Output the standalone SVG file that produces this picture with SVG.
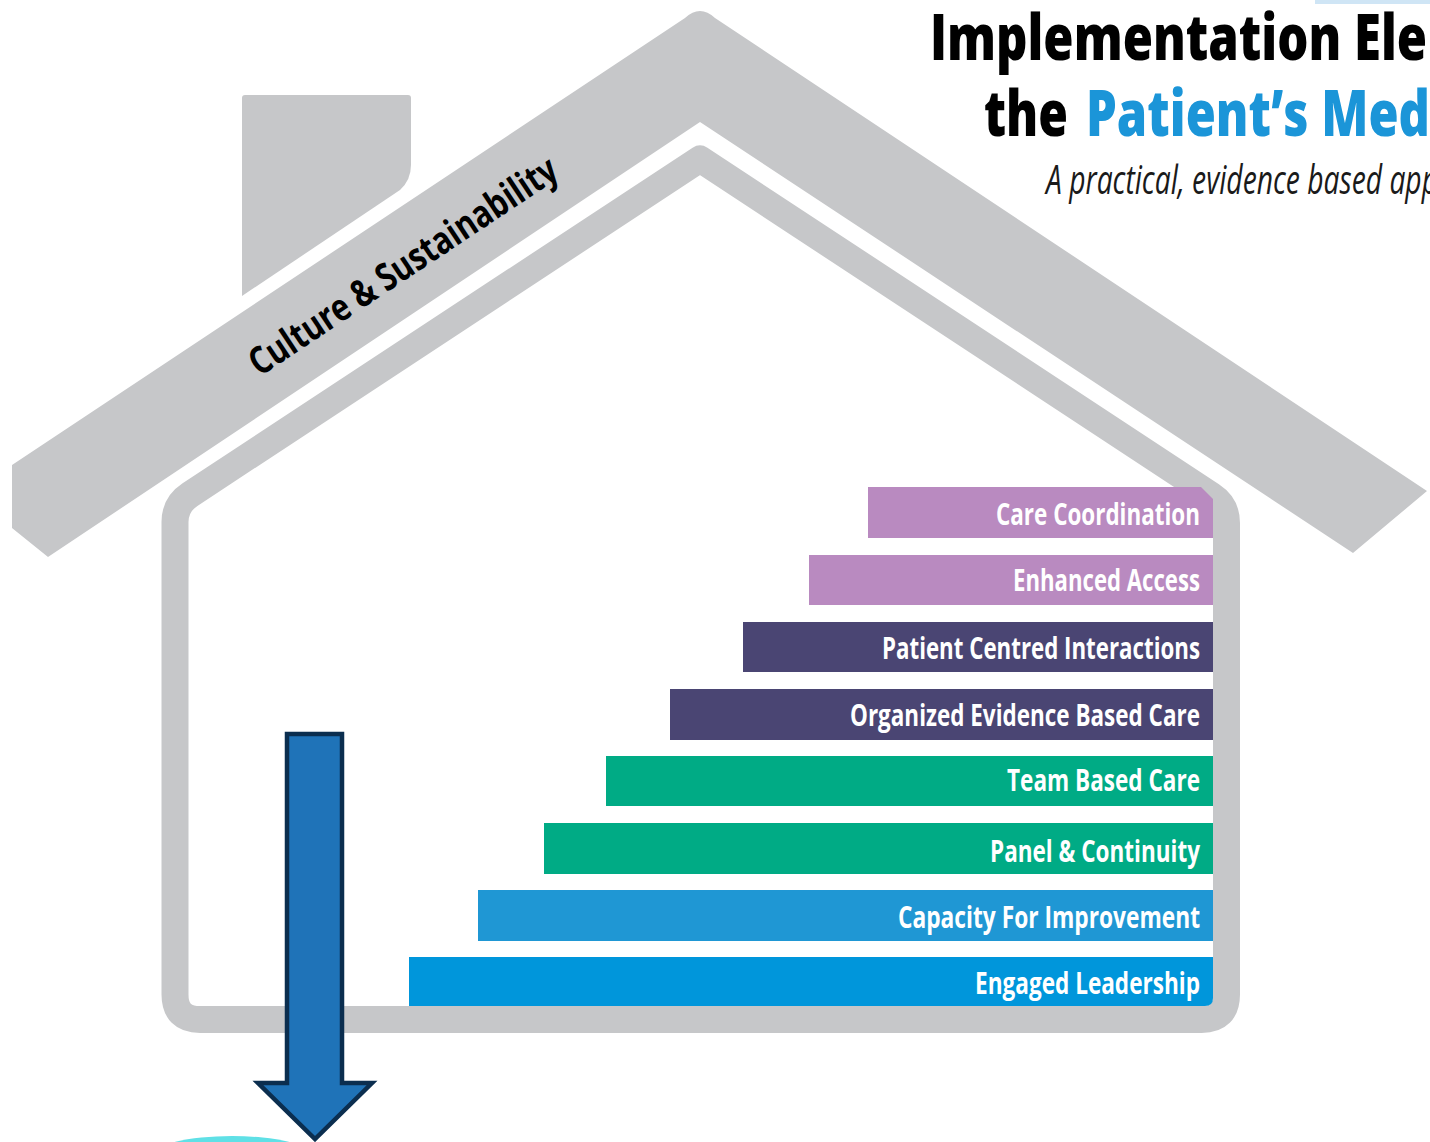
<svg xmlns="http://www.w3.org/2000/svg" width="1430" height="1142" viewBox="0 0 1430 1142">
  <style>
    .grey { fill: #c6c7c9; }
    .band { fill: none; stroke: #c6c7c9; stroke-width: 27; stroke-linejoin: round; }
    .lbl { font-family: "Open Sans", "Liberation Sans", sans-serif; font-weight: 700; font-size: 31px; fill: #ffffff; text-anchor: end; }
    .lilac { fill: #b98ac0; }
    .plum { fill: #4a4573; }
    .green { fill: #00ab85; }
    .blue1 { fill: #1f97d4; }
    .blue2 { fill: #0096db; }
    .title { font-family: "Open Sans", "Liberation Sans", sans-serif; font-weight: 800; font-size: 64px; }
  </style>
  <rect width="1430" height="1142" fill="#ffffff"/>
  <rect x="1315" y="0" width="115" height="4" fill="#cfe5f5"/>

  <g id="roof">
    <path class="grey" d="M12,465 L685,18 Q700,4 715,18 L1427,491 L1353,553 L700,122 L48,557 L12,528 Z"/>
  </g>
  <g id="chimney">
    <path class="grey" d="M242,98 Q242,95 245,95 L408,95 Q411,95 411,98 L411,165 Q411,180 400,190 L242,296 Z"/>
  </g>
  <g id="roof-label">
    <text x="403" y="279" transform="rotate(-33.6 403 266)" text-anchor="middle" textLength="362" lengthAdjust="spacingAndGlyphs" style="font-family:'Open Sans','Liberation Sans',sans-serif;font-weight:700;font-size:38px;fill:#000000">Culture &amp; Sustainability</text>
  </g>

  <g id="house-outline">
    <path class="band" d="M700,159 L190,494.6 Q175,504.5 175,522 L175,994.5 Q175,1019.5 200,1019.5 L1201.5,1019.5 Q1226.5,1019.5 1226.5,994.5 L1226.5,523 Q1226.5,505.4 1211.5,495.5 Z"/>
  </g>

  <g id="title">
    <text class="title" x="930" y="60" fill="#000000" textLength="497" lengthAdjust="spacingAndGlyphs">Implementation Ele</text>
    <text class="title" x="984" y="136" fill="#000000" textLength="84" lengthAdjust="spacingAndGlyphs">the</text>
    <text class="title" x="1086" y="136" fill="#1b95d8" textLength="344" lengthAdjust="spacingAndGlyphs">Patient’s Med</text>
    <text x="1046" y="194" textLength="392" lengthAdjust="spacingAndGlyphs" style="font-family:'Open Sans','Liberation Sans',sans-serif;font-weight:400;font-style:italic;font-size:40px;fill:#1a1a1a">A practical, evidence based app</text>
  </g>

  <g id="care-coordination">
    <path class="lilac" d="M868,487 L1201,487 L1213,499 L1213,538 L868,538 Z"/>
    <text class="lbl" x="1200" y="525" textLength="204" lengthAdjust="spacingAndGlyphs">Care Coordination</text>
  </g>
  <g id="enhanced-access">
    <rect class="lilac" x="809" y="555" width="404" height="50"/>
    <text class="lbl" x="1200" y="591" textLength="187" lengthAdjust="spacingAndGlyphs">Enhanced Access</text>
  </g>
  <g id="patient-centred-interactions">
    <rect class="plum" x="743" y="622" width="470" height="50"/>
    <text class="lbl" x="1200" y="659" textLength="318" lengthAdjust="spacingAndGlyphs">Patient Centred Interactions</text>
  </g>
  <g id="organized-evidence-based-care">
    <rect class="plum" x="670" y="689" width="543" height="51"/>
    <text class="lbl" x="1200" y="726" textLength="350" lengthAdjust="spacingAndGlyphs">Organized Evidence Based Care</text>
  </g>
  <g id="team-based-care">
    <rect class="green" x="606" y="756" width="607" height="50"/>
    <text class="lbl" x="1200" y="791" textLength="193" lengthAdjust="spacingAndGlyphs">Team Based Care</text>
  </g>
  <g id="panel-continuity">
    <rect class="green" x="544" y="823" width="669" height="51"/>
    <text class="lbl" x="1200" y="862" textLength="210" lengthAdjust="spacingAndGlyphs">Panel &amp; Continuity</text>
  </g>
  <g id="capacity-for-improvement">
    <rect class="blue1" x="478" y="890" width="735" height="51"/>
    <text class="lbl" x="1200" y="928" textLength="302" lengthAdjust="spacingAndGlyphs">Capacity For Improvement</text>
  </g>
  <g id="engaged-leadership">
    <path class="blue2" d="M409,957 L1213,957 L1213,998 Q1213,1006 1205,1006 L409,1006 Z"/>
    <text class="lbl" x="1200" y="994" textLength="225" lengthAdjust="spacingAndGlyphs">Engaged Leadership</text>
  </g>

  <g id="target">
    <ellipse cx="232" cy="1156" rx="80" ry="20" fill="#5fe0e6"/>
  </g>

  <g id="connectors">
    <path d="M287,734 L342,734 L342,1083 L372,1083 L315,1139 L258,1083 L287,1083 Z" fill="#1f73b8" stroke="#0b2e4f" stroke-width="4.5" stroke-linejoin="miter"/>
  </g>
</svg>
